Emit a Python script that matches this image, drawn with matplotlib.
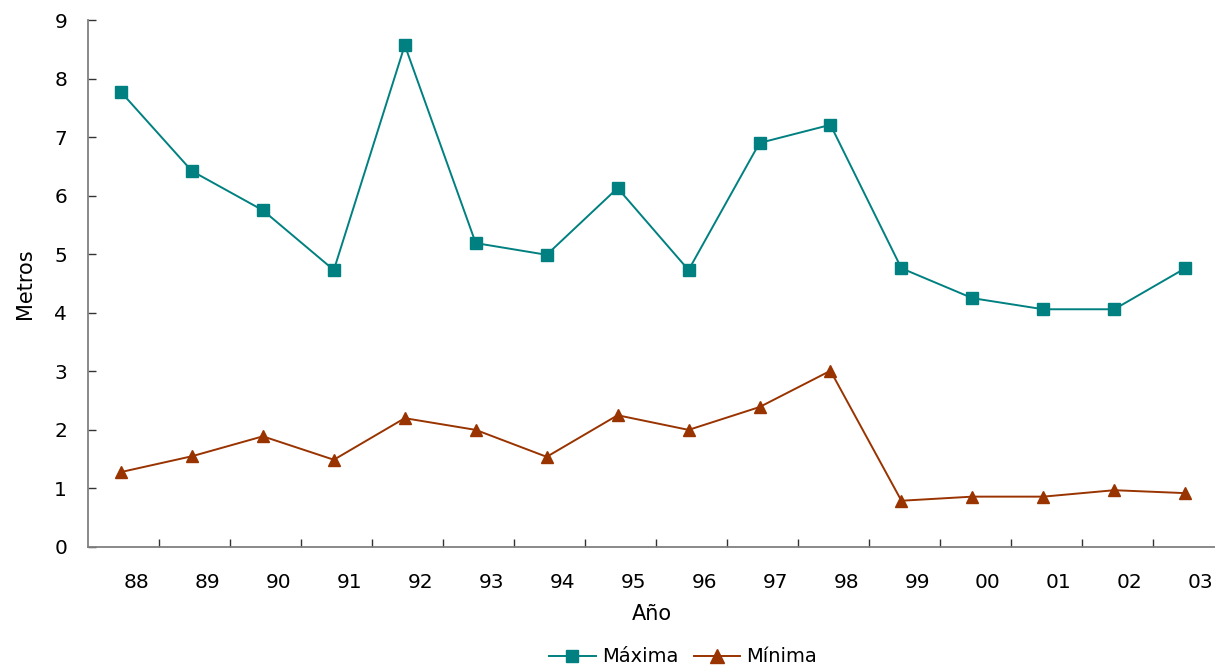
import matplotlib
matplotlib.use("Agg")
import matplotlib.pyplot as plt
import numpy as np

years = ["88", "89", "90", "91", "92", "93", "94", "95",
         "96", "97", "98", "99", "00", "01", "02", "03"]
maxima = [7.77, 6.42, 5.75, 4.73, 8.57, 5.19, 4.99, 6.13,
          4.73, 6.90, 7.21, 4.76, 4.25, 4.06, 4.06, 4.76]
minima = [1.28, 1.55, 1.89, 1.49, 2.20, 2.00, 1.54, 2.25,
          2.00, 2.39, 3.01, 0.79, 0.86, 0.86, 0.97, 0.92]

TEAL = "#008080"
BROWN = "#993300"
plt.rcParams["font.family"] = ["DejaVu Sans"]

fig = plt.figure(figsize=(12.15, 6.66), dpi=100)
ax = fig.add_axes([88 / 1215, 1 - 547 / 666, 1 - 88 / 1215, (547 - 20) / 666])

x = np.arange(len(years))
ax.plot(x, maxima, color=TEAL, lw=1.4, marker="s", ms=8, label="Máxima",
        clip_on=False, zorder=3)
ax.plot(x, minima, color=BROWN, lw=1.4, marker="^", ms=9, label="Mínima",
        clip_on=False, zorder=3)

ax.set_xlim(-0.465, 15.42)
ax.set_ylim(0, 9)
ax.set_yticks(range(0, 10))

# category labels sit a bit right of the markers, boundary ticks between categories
ax.set_xticks(x + 0.22)
ax.set_xticklabels(years)
ax.set_xticks(np.arange(len(years) - 1) + 0.54, minor=True)
ax.tick_params(axis="x", which="major", length=0, pad=19, labelsize=14.5)
ax.tick_params(axis="x", which="minor", direction="in", length=6,
               width=1, color="#333333")
ax.tick_params(axis="y", direction="in", length=6, width=1, color="#333333",
               pad=15, labelsize=14.5)

for s in ["top", "right"]:
    ax.spines[s].set_visible(False)
for s in ["left", "bottom"]:
    ax.spines[s].set_color("#808080")
    ax.spines[s].set_linewidth(1.3)

ax.set_ylabel("Metros", fontsize=15, labelpad=14)
ax.set_xlabel("Año", fontsize=15, labelpad=8)

fig.legend(loc="center", bbox_to_anchor=(683 / 1215, 1 - 657 / 666), ncol=2,
           frameon=False, fontsize=14, handlelength=2.4, handletextpad=0.3,
           columnspacing=0.8, borderpad=0, markerscale=1.1)

fig.savefig("out.png", dpi=100)
